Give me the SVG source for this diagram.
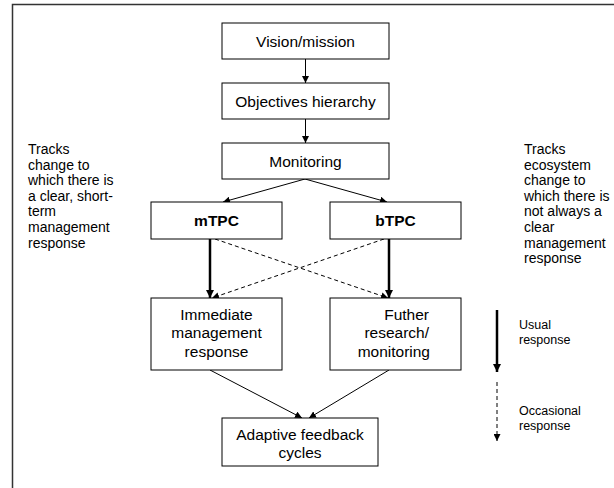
<svg xmlns="http://www.w3.org/2000/svg" width="614" height="488" viewBox="0 0 614 488">
<defs>
<style>
.box{fill:#fff;stroke:#000;stroke-width:1}
.t{font-family:"Liberation Sans",Arial,sans-serif;font-size:15.5px;fill:#000;text-anchor:middle}
.b{font-weight:bold}
.side{font-family:"Liberation Sans",Arial,sans-serif;font-size:14px;fill:#000}
.leg{font-family:"Liberation Sans",Arial,sans-serif;font-size:12.5px;fill:#000}
.ln{stroke:#000;stroke-width:1;fill:none}
.thick{stroke:#000;stroke-width:2.5;fill:none}
.dash{stroke:#000;stroke-width:1;fill:none;stroke-dasharray:4 3}
</style>
<marker id="ah" viewBox="0 0 10 10" refX="10" refY="5" markerWidth="7" markerHeight="7" markerUnits="userSpaceOnUse" orient="auto"><path d="M0,0L10,5L0,10z" fill="#000"/></marker>
<marker id="ahb" viewBox="0 0 10 10" refX="10" refY="5" markerWidth="9" markerHeight="8" markerUnits="userSpaceOnUse" orient="auto"><path d="M0,0L10,5L0,10z" fill="#000"/></marker>
</defs>
<rect x="12.5" y="4.5" width="640" height="520" fill="#fff" stroke="#333" stroke-width="1.5"/>
<g id="connectors">
<line class="ln" x1="305.5" y1="59" x2="305.5" y2="83" marker-end="url(#ah)"/>
<line class="ln" x1="305.5" y1="119" x2="305.5" y2="143" marker-end="url(#ah)"/>
<line class="ln" x1="305" y1="179" x2="223" y2="202" marker-end="url(#ah)"/>
<line class="ln" x1="305" y1="179" x2="387" y2="202" marker-end="url(#ah)"/>
<line class="thick" x1="210" y1="239" x2="210" y2="298" marker-end="url(#ahb)"/>
<line class="thick" x1="389" y1="239" x2="389" y2="298" marker-end="url(#ahb)"/>
<line class="dash" x1="215" y1="239" x2="388" y2="298" marker-end="url(#ah)"/>
<line class="dash" x1="384" y1="239" x2="212" y2="298" marker-end="url(#ah)"/>
<line class="ln" x1="210" y1="370" x2="302" y2="418" marker-end="url(#ah)"/>
<line class="ln" x1="389" y1="370" x2="309" y2="418" marker-end="url(#ah)"/>
<line class="thick" x1="497" y1="310" x2="497" y2="372" marker-end="url(#ahb)"/>
<line class="dash" x1="497" y1="382" x2="497" y2="441" marker-end="url(#ah)"/>
</g>
<g id="vision"><rect class="box" x="222" y="23" width="167" height="36"/><text class="t" x="305.5" y="46.5">Vision/mission</text></g>
<g id="objectives"><rect class="box" x="222" y="83" width="167" height="36"/><text class="t" x="305.5" y="106.5">Objectives hierarchy</text></g>
<g id="monitoring"><rect class="box" x="222" y="143" width="167" height="36"/><text class="t" x="305.5" y="166.5">Monitoring</text></g>
<g id="mtpc"><rect class="box" x="151" y="202" width="131" height="37"/><text class="t b" x="216.5" y="226">mTPC</text></g>
<g id="btpc"><rect class="box" x="330" y="202" width="131" height="37"/><text class="t b" x="395.5" y="226">bTPC</text></g>
<g id="immediate"><rect class="box" x="151" y="298" width="131" height="72"/><text class="t" x="216.5" y="319.5">Immediate</text><text class="t" x="216.5" y="338">management</text><text class="t" x="216.5" y="356.5">response</text></g>
<g id="further"><rect class="box" x="330" y="298" width="131" height="72"/><text class="t" x="429" y="319.5" style="text-anchor:end">Futher</text><text class="t" x="429" y="338" style="text-anchor:end">research/</text><text class="t" x="430" y="356.5" style="text-anchor:end">monitoring</text></g>
<g id="adaptive"><rect class="box" x="222" y="418" width="156" height="48"/><text class="t" x="300" y="439.5">Adaptive feedback</text><text class="t" x="300" y="458">cycles</text></g>
<g id="left-note"><text class="side" x="28" y="154">Tracks</text><text class="side" x="28" y="169.6">change to</text><text class="side" x="28" y="185.2">which there is</text><text class="side" x="28" y="200.8">a clear, short-</text><text class="side" x="28" y="216.4">term</text><text class="side" x="28" y="232">management</text><text class="side" x="28" y="247.6">response</text></g>
<g id="right-note"><text class="side" x="524" y="154">Tracks</text><text class="side" x="524" y="169.6">ecosystem</text><text class="side" x="524" y="185.2">change to</text><text class="side" x="524" y="200.8">which there is</text><text class="side" x="524" y="216.4">not always a</text><text class="side" x="524" y="232">clear</text><text class="side" x="524" y="247.6">management</text><text class="side" x="524" y="263.2">response</text></g>
<g id="legend"><text class="leg" x="519" y="329">Usual</text><text class="leg" x="519" y="344">response</text><text class="leg" x="519" y="415">Occasional</text><text class="leg" x="519" y="430">response</text></g>
</svg>
